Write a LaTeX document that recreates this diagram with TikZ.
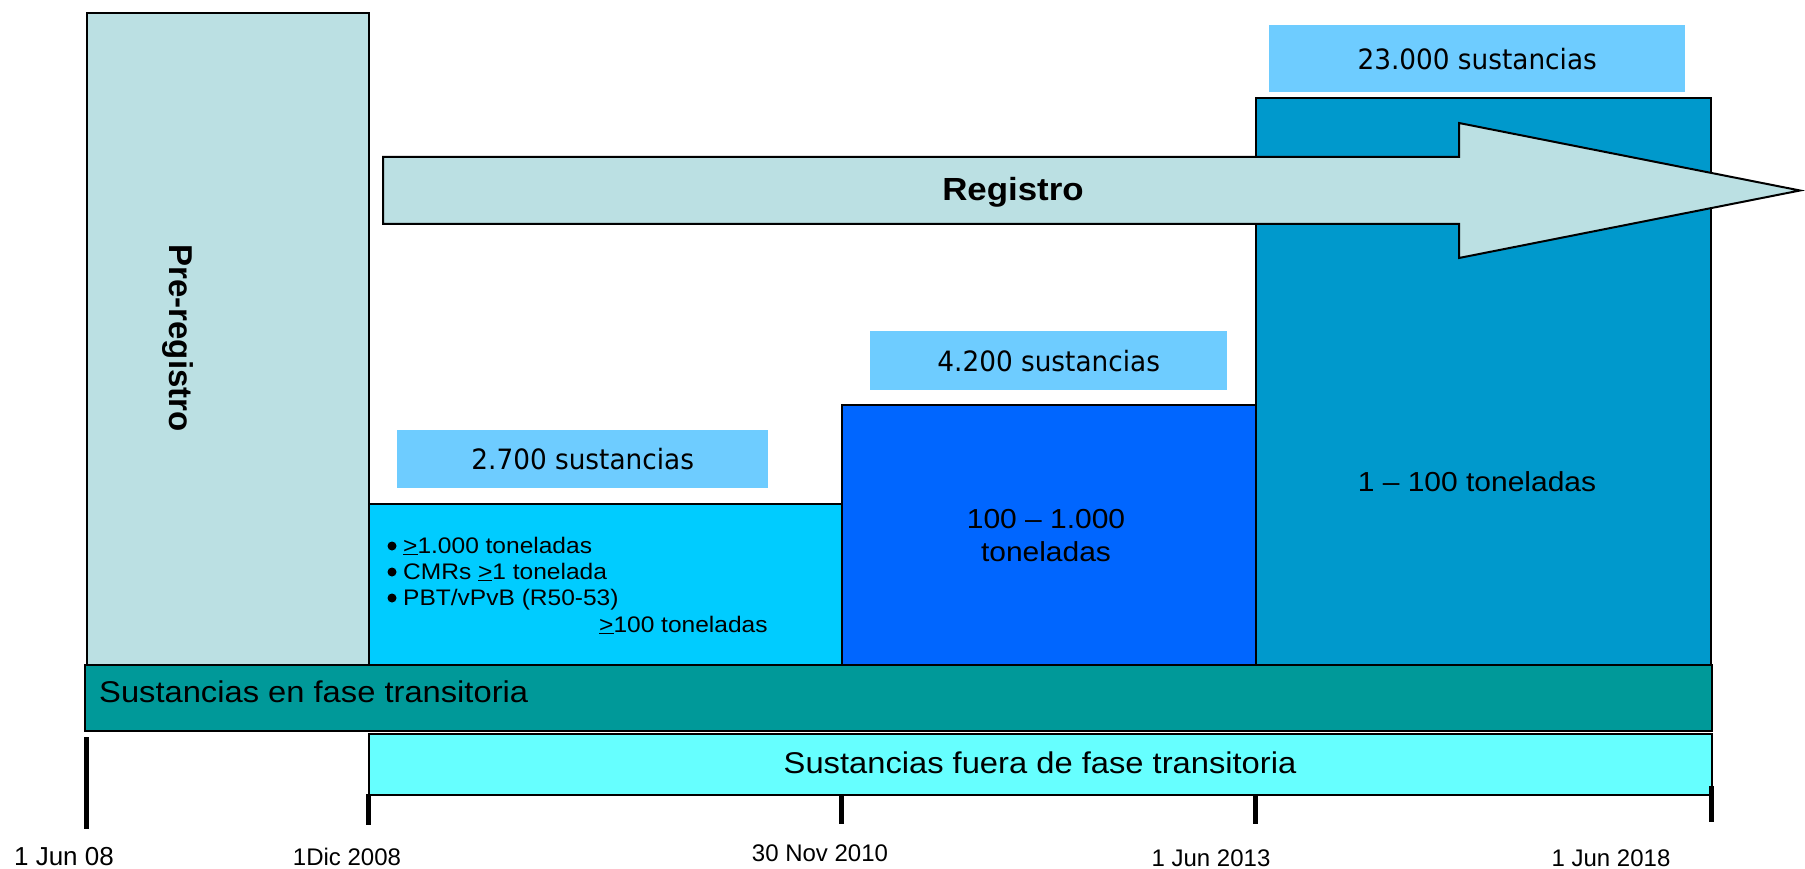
\documentclass[tikz,border=0pt]{standalone}
\usepackage{fontspec}
\setmainfont{Liberation Sans}
\newfontfamily\arialw{Liberation Sans}[FakeStretch=1.09]
\newfontfamily\verd{DejaVu Sans}[FakeStretch=0.94]
\definecolor{prec}{RGB}{187,224,227}
\definecolor{cone}{RGB}{0,204,255}
\definecolor{ctwo}{RGB}{0,102,255}
\definecolor{cthree}{RGB}{0,153,204}
\definecolor{cteal}{RGB}{0,153,153}
\definecolor{ccyan}{RGB}{102,255,255}
\definecolor{clab}{RGB}{110,204,255}
\begin{document}
\begin{tikzpicture}[x=1pt,y=-1pt,
  blk/.style={draw=black, line width=2pt, inner sep=0pt, anchor=north west},
  lab/.style={fill=clab, inner sep=0pt, anchor=north west, font=\verd\fontsize{28}{34}\selectfont},
  big/.style={font=\arialw\fontsize{30}{36}\selectfont},
  mid/.style={font=\arialw\fontsize{27.5}{33}\selectfont, align=center},
  bul/.style={font=\arialw\fontsize{22.5}{27}\selectfont, anchor=base west, inner sep=0pt},
  dot/.style={fill=black},
  date/.style={font=\fontsize{24}{28}\selectfont, inner sep=0pt},
  tick/.style={line width=5pt}]
\useasboundingbox (0,0) rectangle (1805,869);
% main blocks
\node[blk, fill=prec, minimum width=282pt, minimum height=652pt] (pre) at (86,12) {};
\node[blk, fill=cthree, minimum width=455pt, minimum height=567pt] (tthree) at (1255,97) {};
\node[blk, fill=ctwo, minimum width=414pt, minimum height=260pt] (ttwo) at (841,404) {};
\node[blk, fill=cone, minimum width=473pt, minimum height=161pt] (tone) at (368,503) {};
\node[blk, fill=cteal, minimum width=1627pt, minimum height=66pt] (fase) at (84,664) {};
\node[blk, fill=ccyan, minimum width=1343pt, minimum height=61pt] (fuera) at (368,733) {};
% labels
\node[lab, minimum width=371pt, minimum height=58pt] (lone) at (397,430) {2.700 sustancias};
\node[lab, minimum width=357pt, minimum height=59pt] (ltwo) at (870,331) {4.200 sustancias};
\node[lab, minimum width=416pt, minimum height=67pt] (lthree) at (1269,25) {23.000 sustancias};
% arrow
\draw[line width=2pt, fill=prec] (383,157) -- (1459,157) -- (1459,123) -- (1800,190.5) -- (1459,258) -- (1459,224) -- (383,224) -- cycle;
\node[font=\arialw\bfseries\fontsize{32}{38}\selectfont] (reg) at (1013,192) {Registro};
\node[rotate=-90, font=\bfseries\fontsize{33}{38}\selectfont] (prt) at (178,338) {Pre-registro};
% texts in blocks
\fill[dot] (392,546) circle (4.5pt);
\fill[dot] (392,572) circle (4.5pt);
\fill[dot] (392,598) circle (4.5pt);
\node[bul] (bone) at (403,553) {\underline{>}1.000 toneladas};
\node[bul] (btwo) at (403,579) {CMRs \underline{>}1 tonelada};
\node[bul] (bthree) at (403,605) {PBT/vPvB (R50-53)};
\node[bul] (bfour) at (599,632) {\underline{>}100 toneladas};
\node[mid] (ttxt) at (1046,536) {100 – 1.000\\toneladas};
\node[mid] (rtxt) at (1477,482) {1 – 100 toneladas};
\node[big, anchor=west, inner sep=0pt] (fasetxt) at (99,692) {Sustancias en fase transitoria};
\node[big, inner sep=0pt] (fueratxt) at (1040,763) {Sustancias fuera de fase transitoria};
% ticks
\draw[tick] (86,737) -- (86,829);
\draw[tick] (368,794) -- (368,825);
\draw[tick] (841,794) -- (841,824);
\draw[tick] (1255,794) -- (1255,824);
\draw[tick] (1711,786) -- (1711,822);
% dates
\node[date, font=\fontsize{26}{30}\selectfont] (done) at (64,857) {1 Jun 08};
\node[date] (dtwo) at (347,857) {1Dic 2008};
\node[date] (dthree) at (820,853) {30 Nov 2010};
\node[date] (dfour) at (1211,858) {1 Jun 2013};
\node[date] (dfive) at (1611,858) {1 Jun 2018};
\end{tikzpicture}
\end{document}
